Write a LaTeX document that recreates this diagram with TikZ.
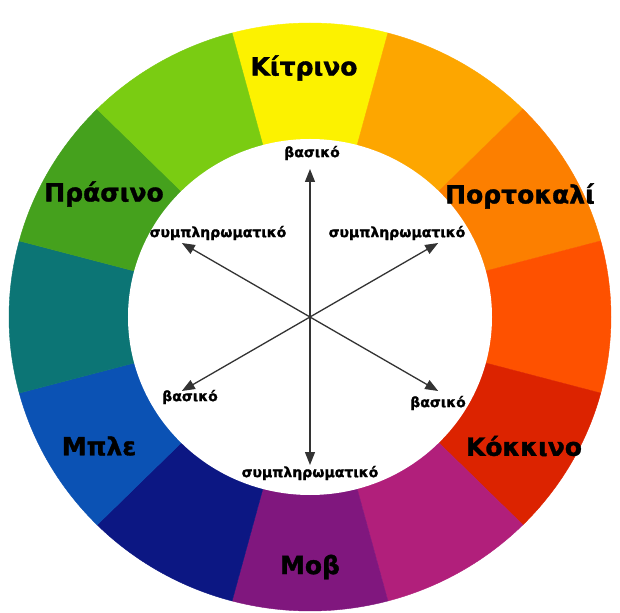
\documentclass[tikz,border=0pt]{standalone}
\usepackage{fontspec}
\setmainfont{DejaVu Sans}
\newfontfamily\heavyfont[FakeBold=1.3]{DejaVu Sans Bold}
\usetikzlibrary{arrows.meta}
\definecolor{kitrino}{HTML}{FCF200}
\definecolor{kitrinoport}{HTML}{FDA600}
\definecolor{portokali}{HTML}{FC7F00}
\definecolor{kokkinoport}{HTML}{FE5100}
\definecolor{kokkino}{HTML}{DC2300}
\definecolor{kokkinomov}{HTML}{B11F7B}
\definecolor{mov}{HTML}{80177E}
\definecolor{movble}{HTML}{0C1783}
\definecolor{ble}{HTML}{0B52B4}
\definecolor{bleprasino}{HTML}{0C7575}
\definecolor{prasino}{HTML}{45A11D}
\definecolor{prasinokitrino}{HTML}{7ACC12}
\begin{document}
\begin{tikzpicture}[x=1pt,y=1pt,
  big/.style={font=\fontsize{25}{30}\heavyfont},
  small/.style={font=\fontsize{14}{16}\heavyfont},
  arr/.style={-{Triangle[length=13pt,width=10pt]}, line width=1.3pt, black!80}]
  \useasboundingbox (-310,-295) rectangle (310,317);
  \fill[white] (-310,-295) rectangle (310,317);
  \foreach \a/\c in {90/kitrino,60/kitrinoport,30/portokali,0/kokkinoport,-30/kokkino,-60/kokkinomov,
                     -90/mov,-120/movble,-150/ble,180/bleprasino,150/prasino,120/prasinokitrino}
    \filldraw[fill=\c, draw=\c, line width=0.4pt] (0,0) -- (\a-15:301 and 294)
      arc[start angle=\a-15, end angle=\a+15, x radius=301, y radius=294] -- cycle;
  \fill[white] (0,0) ellipse [x radius=182, y radius=178];

  \coordinate (o) at (0,0);
  \foreach \a in {90,30,150,210,270,330} {
    \coordinate (tip\a) at (\a:148);
    \draw[arr] (o) -- (tip\a);
  }

  \node[big] (kitrino) at (-6,249) {Κίτρινο};
  \node[big] (prasino) at (-206,123) {Πράσινο};
  \node[big] (portokali) at (210,121) {Πορτοκαλί};
  \node[big] (ble) at (-211,-129) {Μπλε};
  \node[big] (kokkino) at (214,-129) {Κόκκινο};
  \node[big] (mov) at (0,-250) {Μοβ};

  \node[small] (vas1) at (2,164) {βασικό};
  \node[small] (symp1) at (-92,84) {συμπληρωματικό};
  \node[small] (symp2) at (87,84) {συμπληρωματικό};
  \node[small] (vas2) at (-120,-80) {βασικό};
  \node[small] (vas3) at (128,-86) {βασικό};
  \node[small] (symp3) at (0,-156) {συμπληρωματικό};
\end{tikzpicture}
\end{document}
